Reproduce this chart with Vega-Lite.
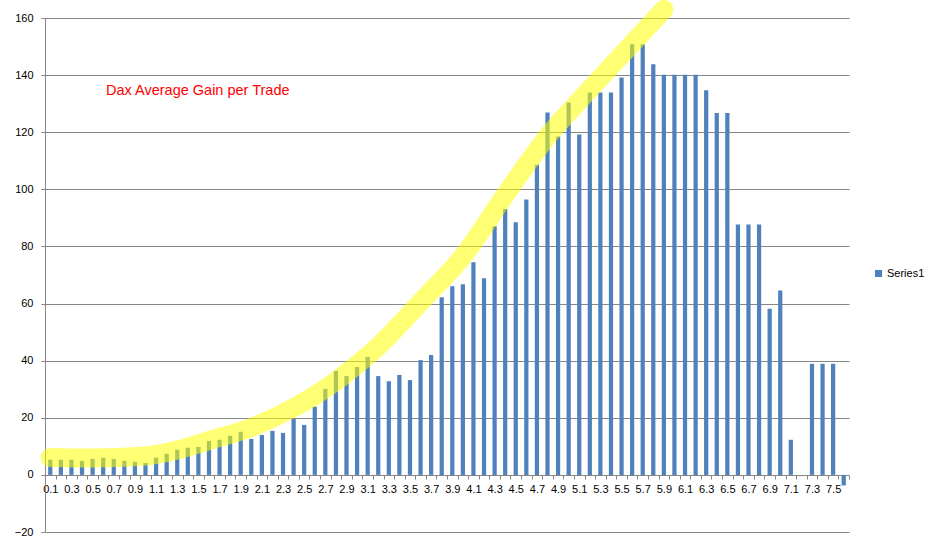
{
  "$schema": "https://vega.github.io/schema/vega-lite/v6.json",
  "width": 804,
  "height": 514,
  "autosize": "none",
  "padding": {"left": 45, "top": 18, "right": 95, "bottom": 21},
  "background": "#ffffff",
  "title": {
    "text": "Dax Average Gain per Trade",
    "anchor": "start",
    "frame": "group",
    "orient": "top",
    "offset": 0,
    "baseline": "middle",
    "dx": 61,
    "dy": 106,
    "color": "#ff0000",
    "font": "Liberation Sans",
    "fontSize": 14.5,
    "fontWeight": "normal"
  },
  "config": {
    "view": {"stroke": null},
    "axis": {"labelFont": "Liberation Sans", "labelColor": "#000000", "labelFontSize": 11},
    "legend": {"labelFont": "Liberation Sans", "labelFontSize": 11, "labelColor": "#000000"}
  },
  "datasets": {
    "bars": [
      {"x": "0.1", "v": 5.3}, {"x": "0.2", "v": 5.3}, {"x": "0.3", "v": 5.3}, {"x": "0.4", "v": 4.9},
      {"x": "0.5", "v": 5.6}, {"x": "0.6", "v": 6.0}, {"x": "0.7", "v": 5.6}, {"x": "0.8", "v": 4.9},
      {"x": "0.9", "v": 4.6}, {"x": "1.0", "v": 4.2}, {"x": "1.1", "v": 6.0}, {"x": "1.2", "v": 7.4},
      {"x": "1.3", "v": 8.8}, {"x": "1.4", "v": 9.5}, {"x": "1.5", "v": 9.8}, {"x": "1.6", "v": 11.9},
      {"x": "1.7", "v": 12.3}, {"x": "1.8", "v": 13.7}, {"x": "1.9", "v": 15.1}, {"x": "2.0", "v": 12.6},
      {"x": "2.1", "v": 14.0}, {"x": "2.2", "v": 15.4}, {"x": "2.3", "v": 14.7}, {"x": "2.4", "v": 19.6},
      {"x": "2.5", "v": 17.5}, {"x": "2.6", "v": 23.9}, {"x": "2.7", "v": 30.1}, {"x": "2.8", "v": 36.4},
      {"x": "2.9", "v": 34.6}, {"x": "3.0", "v": 37.8}, {"x": "3.1", "v": 41.3}, {"x": "3.2", "v": 34.6},
      {"x": "3.3", "v": 32.8}, {"x": "3.4", "v": 35.0}, {"x": "3.5", "v": 33.2}, {"x": "3.6", "v": 40.2},
      {"x": "3.7", "v": 42.0}, {"x": "3.8", "v": 62.2}, {"x": "3.9", "v": 66.1}, {"x": "4.0", "v": 66.8},
      {"x": "4.1", "v": 74.5}, {"x": "4.2", "v": 68.9}, {"x": "4.3", "v": 87.1}, {"x": "4.4", "v": 93.1},
      {"x": "4.5", "v": 88.5}, {"x": "4.6", "v": 96.4}, {"x": "4.7", "v": 108.6}, {"x": "4.8", "v": 126.9},
      {"x": "4.9", "v": 118.5}, {"x": "5.0", "v": 130.4}, {"x": "5.1", "v": 119.2}, {"x": "5.2", "v": 133.9},
      {"x": "5.3", "v": 133.9}, {"x": "5.4", "v": 133.9}, {"x": "5.5", "v": 139.2}, {"x": "5.6", "v": 150.8},
      {"x": "5.7", "v": 150.8}, {"x": "5.8", "v": 143.8}, {"x": "5.9", "v": 140.1}, {"x": "6.0", "v": 140.1},
      {"x": "6.1", "v": 140.1}, {"x": "6.2", "v": 140.1}, {"x": "6.3", "v": 134.7}, {"x": "6.4", "v": 126.7},
      {"x": "6.5", "v": 126.7}, {"x": "6.6", "v": 87.7}, {"x": "6.7", "v": 87.7}, {"x": "6.8", "v": 87.7},
      {"x": "6.9", "v": 58.2}, {"x": "7.0", "v": 64.6}, {"x": "7.1", "v": 12.3}, {"x": "7.2", "v": 0},
      {"x": "7.3", "v": 38.9}, {"x": "7.4", "v": 38.9}, {"x": "7.5", "v": 38.9}, {"x": "7.6", "v": -3.7}
    ],
    "highlight": [
      {"x": "0.1", "v": 6.1}, {"x": "0.5", "v": 5.9}, {"x": "1.0", "v": 6.6}, {"x": "1.3", "v": 8.7},
      {"x": "1.6", "v": 12.0}, {"x": "2.0", "v": 16.6}, {"x": "2.4", "v": 23.5}, {"x": "2.8", "v": 32.8},
      {"x": "3.2", "v": 45.0}, {"x": "3.6", "v": 60.5}, {"x": "4.0", "v": 76.5}, {"x": "4.4", "v": 98.0},
      {"x": "4.8", "v": 118.5}, {"x": "5.2", "v": 135.0}, {"x": "5.6", "v": 151.0}, {"x": "5.9", "v": 163.0}
    ]
  },
  "encoding": {
    "x": {
      "field": "x",
      "type": "ordinal",
      "scale": {"paddingInner": 0, "paddingOuter": 0},
      "axis": {
        "title": null,
        "offset": -57,
        "domainColor": "#868686",
        "tickColor": "#868686",
        "tickSize": 4,
        "tickBand": "extent",
        "labelAngle": 0,
        "labelPadding": 4,
        "labelOverlap": false,
        "labelExpr": "round(toNumber(datum.value) * 10) % 2 == 1 ? datum.label : ''"
      }
    },
    "y": {
      "field": "v",
      "type": "quantitative",
      "scale": {"domain": [-20, 160], "nice": false, "zero": false},
      "axis": {
        "title": null,
        "values": [-20, 0, 20, 40, 60, 80, 100, 120, 140, 160],
        "domainColor": "#868686",
        "tickColor": "#868686",
        "tickSize": 4,
        "labelPadding": 8,
        "gridColor": "#868686",
        "gridWidth": 1,
        "gridOpacity": 1
      }
    }
  },
  "layer": [
    {
      "data": {"name": "bars"},
      "mark": {"type": "bar", "width": {"band": 0.4}},
      "encoding": {
        "color": {
          "datum": "Series1",
          "scale": {"range": ["#4f81bd"]},
          "legend": {
            "title": null,
            "orient": "none",
            "legendX": 828,
            "legendY": 250,
            "symbolType": "square",
            "symbolSize": 50,
            "labelOffset": 3
          }
        }
      }
    },
    {
      "data": {"name": "highlight"},
      "mark": {
        "type": "line",
        "color": "#ffff00",
        "opacity": 0.55,
        "strokeWidth": 19,
        "strokeCap": "round",
        "strokeJoin": "round",
        "interpolate": "monotone",
        "clip": false
      },
      "encoding": {}
    }
  ]
}
